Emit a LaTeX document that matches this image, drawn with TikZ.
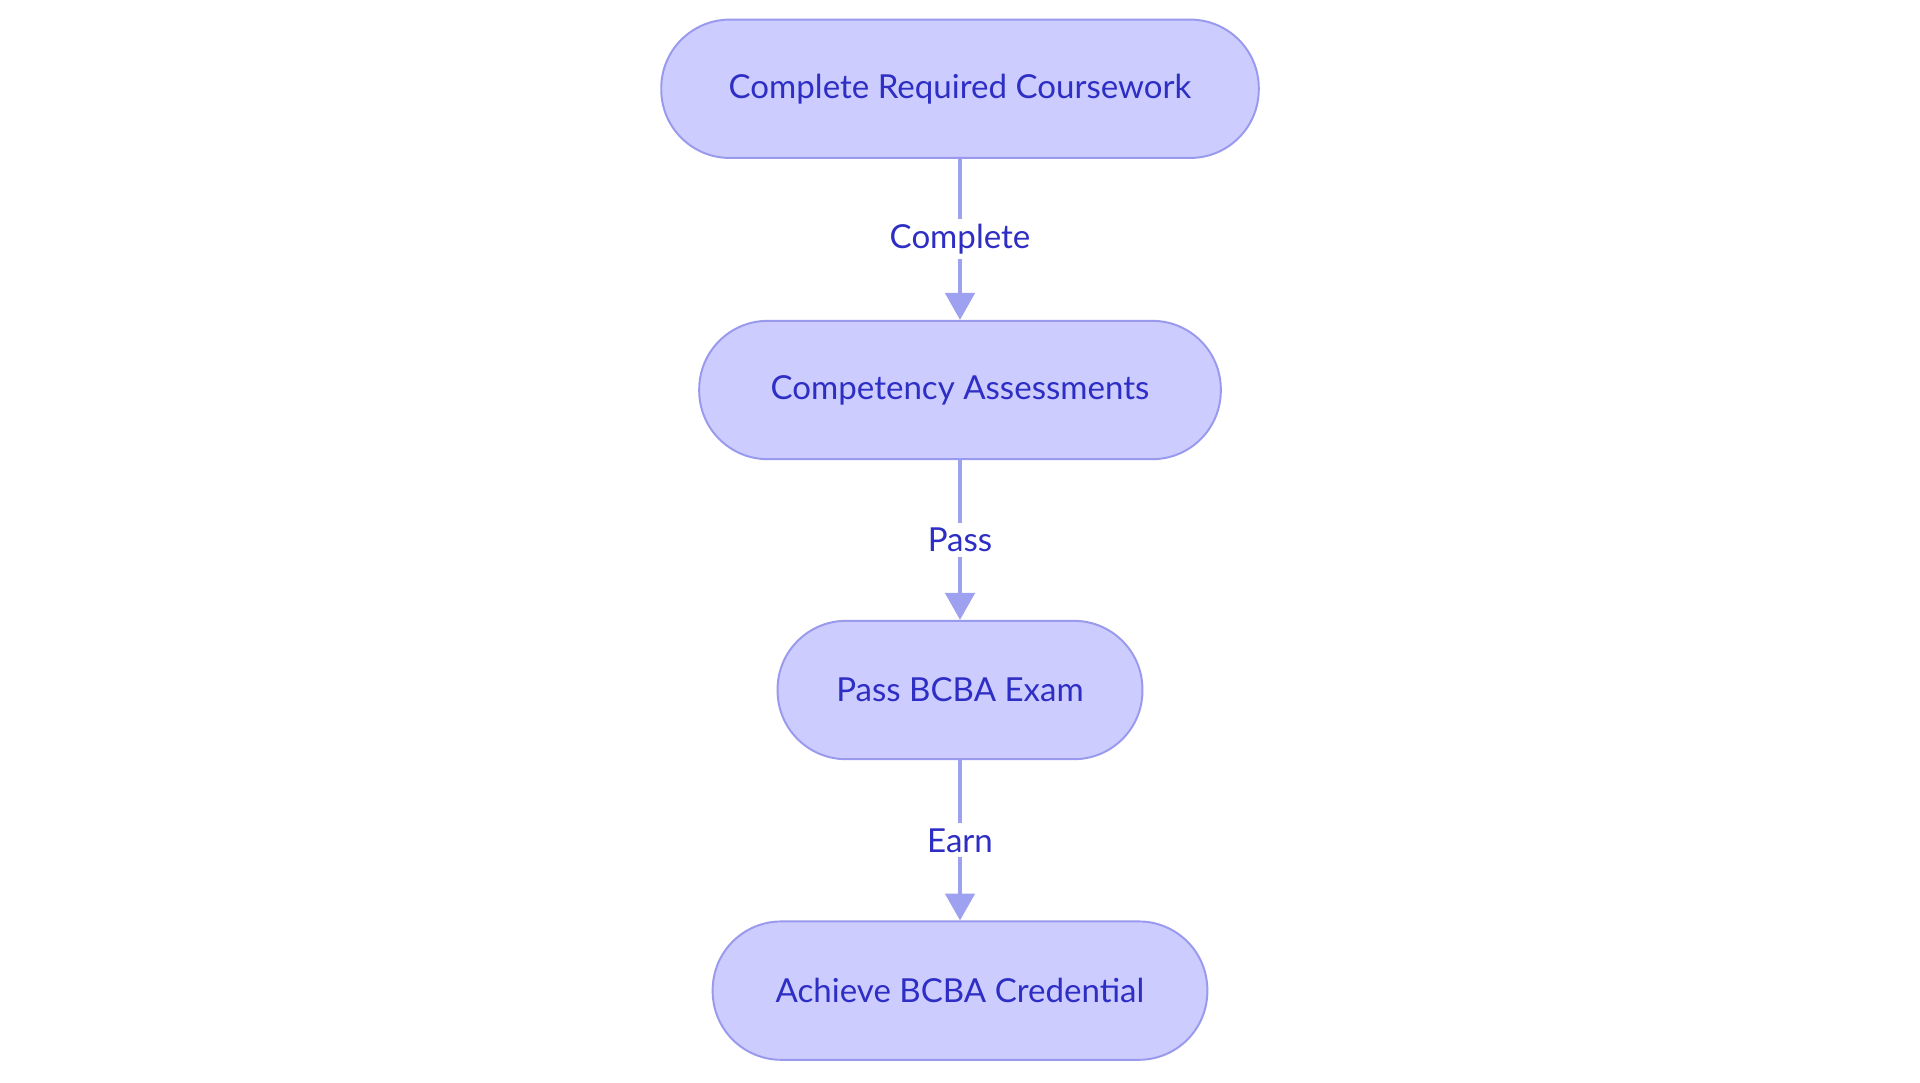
\documentclass[tikz,border=0pt]{standalone}
\usepackage{fontspec}
\setmainfont{Lato}
\usetikzlibrary{arrows.meta}
\definecolor{nfill}{HTML}{CCCCFF}
\definecolor{ndraw}{HTML}{9999EE}
\definecolor{ntext}{HTML}{2E2EC4}
\definecolor{edge}{HTML}{9EA0F0}
\tikzset{
  stepbox/.style={draw=ndraw, fill=nfill, line width=0.8pt, rounded corners=28pt, minimum height=56.5pt, text=ntext, font=\fontsize{13.5}{16}\selectfont, inner sep=0pt},
  conn/.style={draw=edge, line width=1.6pt, -{Triangle[length=11pt,width=12pt]}},
  elabel/.style={fill=white, text=ntext, font=\fontsize{13.5}{16}\selectfont, inner sep=2pt}
}
\begin{document}
\begin{tikzpicture}[x=1pt,y=1pt]
\useasboundingbox (0,0) rectangle (784,-442);
\node[stepbox, minimum width=244pt] (a) at (392,-36.25) {Complete Required Coursework};
\node[stepbox, minimum width=213pt] (b) at (392,-159.25) {Competency Assessments};
\node[stepbox, minimum width=149pt] (c) at (392,-281.75) {Pass BCBA Exam};
\node[stepbox, minimum width=202pt] (d) at (392,-404.5) {Achieve BCBA Credential};
\draw[conn] (a) -- node[elabel, pos=0.5]{Complete} (b);
\draw[conn] (b) -- node[elabel, pos=0.5]{Pass} (c);
\draw[conn] (c) -- node[elabel, pos=0.5]{Earn} (d);
\end{tikzpicture}
\end{document}
